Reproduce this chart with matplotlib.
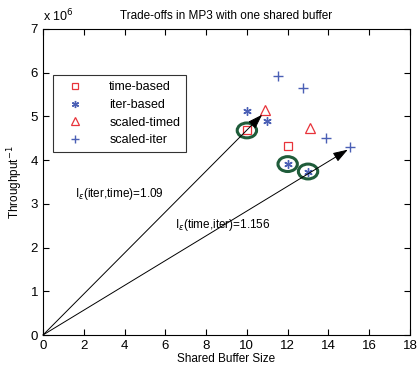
import numpy as np
import matplotlib
matplotlib.use('Agg')
import matplotlib.pyplot as plt
from matplotlib.patches import Ellipse

# data (throughput^-1 in units of 1e6)
time_x = [10.0, 12.0]
time_y = [4.68, 4.32]
iter_x = [10.0, 11.0, 12.0, 13.0]
iter_y = [5.13, 4.90, 3.91, 3.74]
stimed_x = [10.9, 13.1]
stimed_y = [5.14, 4.73]
siter_x = [11.55, 12.75, 13.9, 15.05]
siter_y = [5.93, 5.66, 4.51, 4.31]

circled_x = [10.0, 12.0, 13.0]
circled_y = [4.68, 3.91, 3.74]

arrow_ends = [(10.75, 5.04), (14.95, 4.24)]
labels = [r'I$_{\epsilon}$(iter,time)=1.09', r'I$_{\epsilon}$(time,iter)=1.156']
label_pos = [(1.55, 3.15), (6.45, 2.45)]

red = '#e8333a'
blue = '#4a5fb5'
green = '#1f5c3a'

plt.rcParams['font.family'] = ['Liberation Sans', 'DejaVu Sans']
fig = plt.figure(figsize=(4.17, 3.71), dpi=100)
ax = fig.add_axes([43/417, 1 - 335/371, 367/417, 306/371])

ax.plot(time_x, time_y, 's', mfc='none', mec=red, ms=5.5, mew=0.9, label='time-based')
ax.plot(iter_x, iter_y, marker=(6, 2, 0), ls='none', color=blue, ms=6, mew=1.0, label='iter-based')
ax.plot(stimed_x, stimed_y, '^', mfc='none', mec=red, ms=7.5, mew=0.9, label='scaled-timed')
ax.plot(siter_x, siter_y, '+', color=blue, ms=7, mew=1.0, label='scaled-iter')

for cx, cy in zip(circled_x, circled_y):
    ax.add_patch(Ellipse((cx, cy), 0.95, 0.34, fill=False, ec=green, lw=2.2, zorder=3))

for (ex, ey) in arrow_ends:
    ax.annotate('', xy=(ex, ey), xytext=(0, 0),
                arrowprops=dict(arrowstyle='-|>,head_length=0.9,head_width=0.3',
                                color='black', lw=0.7, shrinkA=0, shrinkB=0))

for txt, (tx, ty) in zip(labels, label_pos):
    ax.text(tx, ty, txt, fontsize=8.5)

ax.set_xlim(0, 18)
ax.set_ylim(0, 7)
ax.set_xticks(range(0, 19, 2))
ax.set_yticks(range(0, 8))
ax.tick_params(direction='in', top=True, right=True, labelsize=9.5, length=4)
ax.set_xlabel('Shared Buffer Size', fontsize=8.5, labelpad=1)
ax.set_ylabel('Throughput$^{-1}$', fontsize=8.5, labelpad=4)
ax.set_title('Trade-offs in MP3 with one shared buffer', fontsize=8.5, pad=7)
ax.text(0.0, 1.015, r'x 10$^6$', transform=ax.transAxes, fontsize=9, ha='left', va='bottom')

leg = ax.legend(loc='upper left', bbox_to_anchor=(0.01, 0.87), fontsize=9, frameon=True,
                fancybox=False, edgecolor='black', handletextpad=1.4, borderpad=0.5,
                labelspacing=0.45, handlelength=2.6, markerscale=0.85)
leg.get_frame().set_linewidth(0.8)

fig.savefig('out.png', dpi=100)
